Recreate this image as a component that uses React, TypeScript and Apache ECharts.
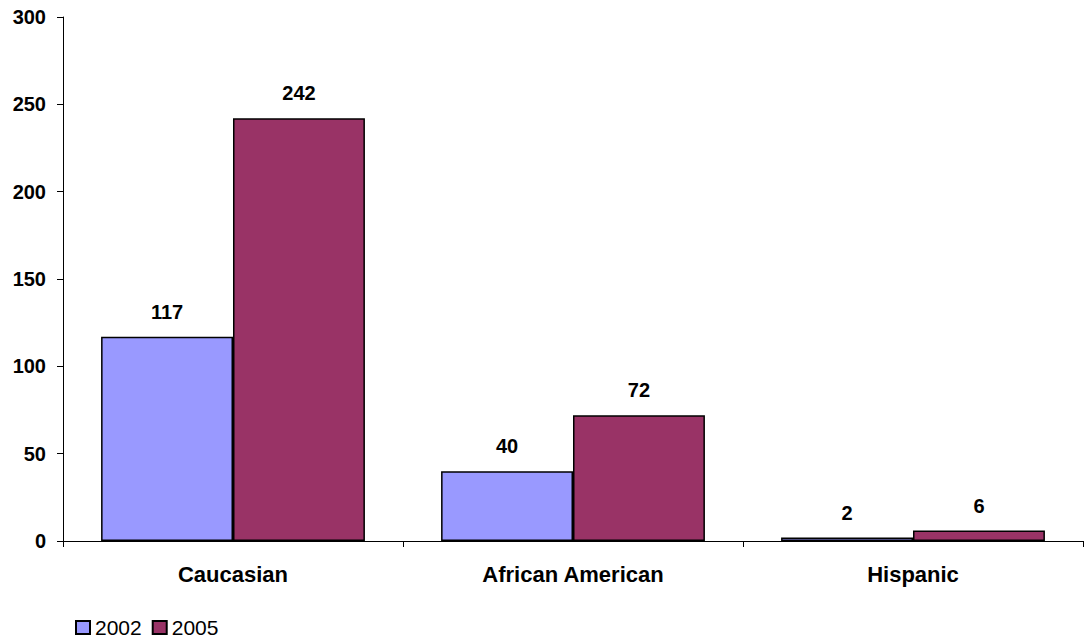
import React, { useEffect, useRef } from "react";
import * as echarts from "echarts";

const categories = ["Caucasian", "African American", "Hispanic"];
const seriesNames = ["2002", "2005"];
const values2002 = [117, 40, 2];
const values2005 = [242, 72, 6];
const colors = ["#9999FF", "#993366"];

const FONT = "'Liberation Sans', Arial, sans-serif";

export default function App() {
  const ref = useRef<HTMLDivElement>(null);
  useEffect(() => {
    if (!ref.current) return;
    const chart = echarts.init(ref.current, undefined, { renderer: "svg" });
    const labelStyle = {
      show: true,
      position: "top" as const,
      distance: 15,
      color: "#000",
      fontWeight: "bold" as const,
      fontSize: 20,
      fontFamily: FONT,
    };
    chart.setOption({
      animation: false,
      backgroundColor: "#fff",
      grid: { left: 63, right: 1, top: 17, bottom: 100, containLabel: false },
      legend: {
        data: seriesNames,
        left: 70,
        top: 612,
        padding: 5,
        orient: "horizontal",
        itemWidth: 14,
        itemHeight: 13,
        itemGap: 10,
        icon: "rect",
        textStyle: { fontSize: 21, color: "#000", fontFamily: FONT },
      },
      xAxis: {
        type: "category",
        data: categories,
        boundaryGap: true,
        axisLine: { lineStyle: { color: "#000", width: 1 } },
        axisTick: { show: true, length: 6, lineStyle: { color: "#000" } },
        axisLabel: {
          margin: 22,
          color: "#000",
          fontWeight: "bold",
          fontSize: 22,
          fontFamily: FONT,
        },
        splitLine: { show: false },
      },
      yAxis: {
        type: "value",
        min: 0,
        max: 300,
        interval: 50,
        axisLine: { show: true, lineStyle: { color: "#000", width: 1 } },
        axisTick: { show: true, length: 6, lineStyle: { color: "#000" } },
        axisLabel: {
          margin: 17,
          color: "#000",
          fontWeight: "bold",
          fontSize: 20,
          fontFamily: FONT,
        },
        splitLine: { show: false },
      },
      series: [
        {
          name: seriesNames[0],
          type: "bar",
          data: values2002,
          barWidth: "38.8%",
          barGap: "0%",
          itemStyle: { color: colors[0], borderColor: "#000", borderWidth: 1.5 },
          label: labelStyle,
        },
        {
          name: seriesNames[1],
          type: "bar",
          data: values2005,
          barWidth: "38.8%",
          barGap: "0%",
          itemStyle: { color: colors[1], borderColor: "#000", borderWidth: 1.5 },
          label: labelStyle,
        },
      ],
    });
    return () => chart.dispose();
  }, []);
  return <div ref={ref} style={{ width: 1084, height: 641, position: "absolute", left: 0, top: 0 }} />;
}
